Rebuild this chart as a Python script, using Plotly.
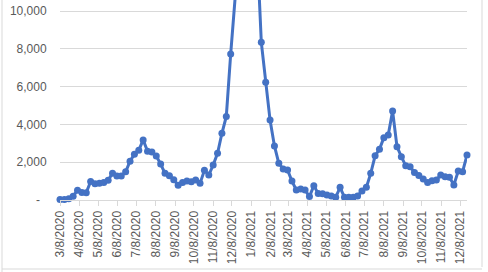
import pandas as pd
import plotly.graph_objects as go

start_date = "2020-03-08"
weekly_values = [
    20, 30, 60, 200, 520, 400, 390, 980, 860, 880,
    930, 1040, 1420, 1270, 1270, 1490, 2050, 2420, 2630, 3180,
    2580, 2540, 2330, 1900, 1410, 1280, 1070, 780, 930, 1000,
    970, 1060, 880, 1570, 1320, 1850, 2470, 3530, 4420, 7720,
    11500, 14500, 16500, 17000, 15500, 13500, 8340, 6230, 4230, 2860,
    1940, 1640, 1590, 1000, 530, 580, 530, 180, 760, 350,
    330, 260, 210, 140, 670, 140, 140, 140, 210, 480,
    670, 1410, 2340, 2680, 3300, 3440, 4710, 2820, 2290, 1810,
    1760, 1460, 1290, 1110, 920, 1020, 1060, 1320, 1230, 1200,
    790, 1530, 1500, 2380,
]
x_tick_labels = [
    "3/8/2020", "4/8/2020", "5/8/2020", "6/8/2020", "7/8/2020", "8/8/2020",
    "9/8/2020", "10/8/2020", "11/8/2020", "12/8/2020", "1/8/2021", "2/8/2021",
    "3/8/2021", "4/8/2021", "5/8/2021", "6/8/2021", "7/8/2021", "8/8/2021",
    "9/8/2021", "10/8/2021", "11/8/2021", "12/8/2021",
]
y_tick_values = [0, 2000, 4000, 6000, 8000, 10000]
y_tick_labels = ["-\u2007", "2,000", "4,000", "6,000", "8,000", "10,000"]

dates = pd.date_range(start=start_date, periods=len(weekly_values), freq="7D")
tick_dates = pd.to_datetime(x_tick_labels, format="%m/%d/%Y")

blue = "#4472C4"
grid = "#D9D9D9"
text_col = "#595959"
font_family = "Liberation Sans, Arial, sans-serif"

fig = go.Figure()
fig.add_trace(go.Scatter(
    x=dates, y=weekly_values, mode="lines+markers",
    line=dict(color=blue, width=3),
    marker=dict(color=blue, size=7),
    cliponaxis=False,
    hoverinfo="skip",
))

fig.update_layout(
    width=488, height=272, autosize=False,
    margin=dict(l=60, r=21, t=0, b=72, pad=0),
    paper_bgcolor="white", plot_bgcolor="white",
    showlegend=False,
    font=dict(family=font_family, size=12, color=text_col),
)
fig.update_xaxes(
    type="date",
    range=[dates[0], dates[-1]],
    tickvals=tick_dates, ticktext=x_tick_labels,
    tickangle=-90,
    showgrid=False, zeroline=False,
    showline=True, linecolor=grid, linewidth=1,
    ticks="outside", ticklen=5, tickcolor=grid, tickwidth=1,
    tickfont=dict(family=font_family, size=12, color=text_col),
)
fig.update_yaxes(
    range=[0, 10582],
    tickvals=y_tick_values, ticktext=y_tick_labels,
    showgrid=True, gridcolor=grid, gridwidth=1,
    zeroline=False, showline=False,
    ticks="outside", ticklen=10, tickcolor="rgba(0,0,0,0)",
    tickfont=dict(family=font_family, size=12, color=text_col),
)

# faint frame lines of neighbouring chart areas visible in the screenshot
frame = "#D9D9D9"
fig.add_shape(type="line", xref="paper", yref="paper",
              x0=-58 / 407, x1=-58 / 407, y0=-72 / 200, y1=1,
              line=dict(color=frame, width=1))
fig.add_shape(type="line", xref="paper", yref="paper",
              x0=(482 - 60) / 407, x1=(482 - 60) / 407, y0=-67 / 200, y1=1,
              line=dict(color=frame, width=1))
fig.add_shape(type="line", xref="paper", yref="paper",
              x0=-58 / 407, x1=(482 - 60) / 407, y0=-69 / 200, y1=-69 / 200,
              line=dict(color=frame, width=1))

fig.write_html("out.html")
